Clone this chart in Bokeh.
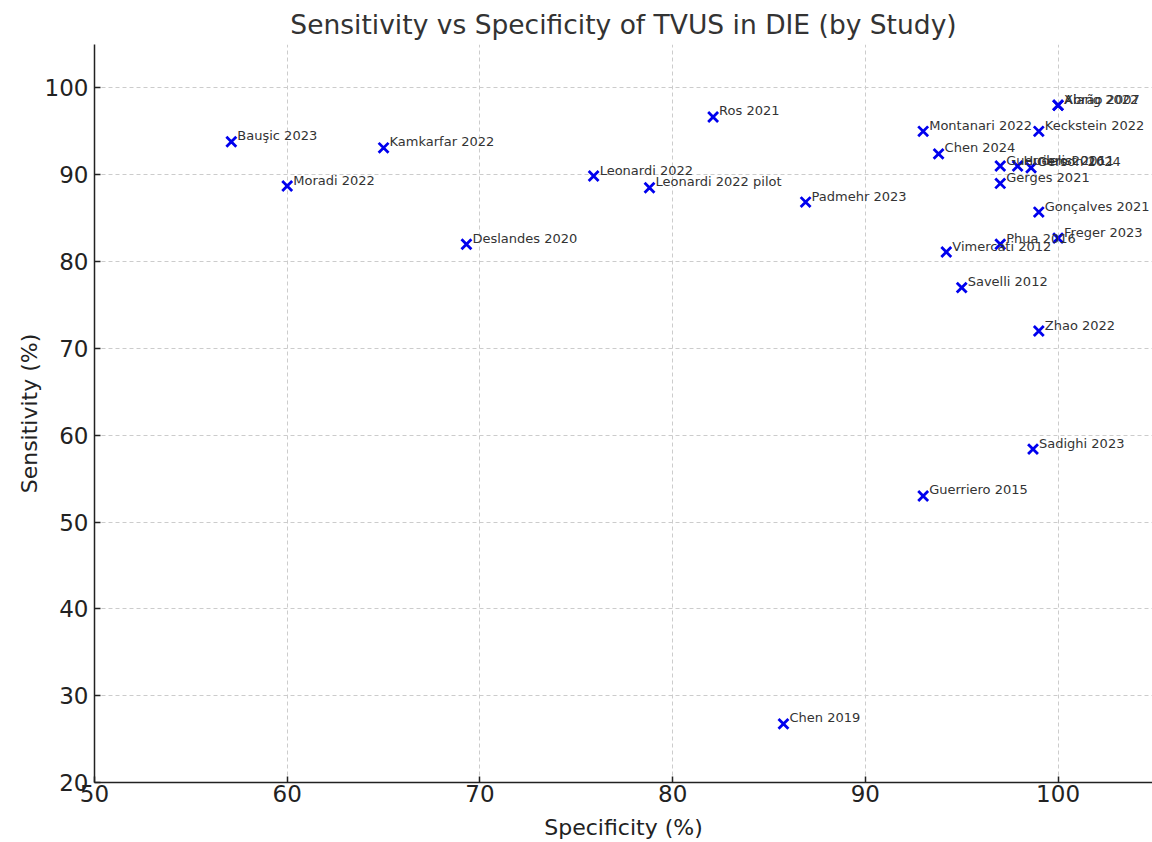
from bokeh.plotting import figure
from bokeh.models import ColumnDataSource, Range1d, FixedTicker
from bokeh.core.properties import value
from bokeh.embed import file_html
from bokeh.resources import INLINE

studies = ["Bauşic 2023", "Moradi 2022", "Kamkarfar 2022", "Deslandes 2020",
           "Leonardi 2022", "Leonardi 2022 pilot", "Ros 2021", "Padmehr 2023",
           "Chen 2019", "Montanari 2022", "Chen 2024", "Guerriero 2016",
           "Hudelist 2011", "Gerson 2024", "Gerges 2021", "Keckstein 2022",
           "Abrão 2007", "Xiang 2022", "Gonçalves 2021", "Freger 2023",
           "Phua 2016", "Vimercati 2012", "Savelli 2012", "Zhao 2022",
           "Sadighi 2023", "Guerriero 2015"]
specificity = [57.1, 60.0, 65.0, 69.3,
               75.9, 78.8, 82.1, 86.9,
               85.75, 93.0, 93.8, 97.0,
               97.9, 98.6, 97.0, 99.0,
               100.0, 100.0, 99.0, 100.0,
               97.0, 94.2, 95.0, 99.0,
               98.7, 93.0]
sensitivity = [93.8, 88.7, 93.1, 82.0,
               89.85, 88.5, 96.65, 86.85,
               26.75, 95.0, 92.4, 91.0,
               91.0, 90.8, 89.0, 95.0,
               98.0, 98.0, 85.7, 82.7,
               82.0, 81.1, 77.0, 72.0,
               58.4, 53.0]

x_ticks = [50, 60, 70, 80, 90, 100]
y_ticks = [20, 30, 40, 50, 60, 70, 80, 90, 100]

src = ColumnDataSource(dict(x=specificity, y=sensitivity, name=studies))

FONT = "DejaVu Sans"

p = figure(width=1152, height=842, output_backend="svg", toolbar_location=None,
           x_range=Range1d(50, 104.9), y_range=Range1d(20, 105),
           min_border_left=94, min_border_right=0, min_border_top=44,
           min_border_bottom=60,
           title="Sensitivity vs Specificity of TVUS in DIE (by Study)")

p.title.text_font = FONT
p.title.text_font_size = "26.5px"
p.title.text_font_style = "normal"
p.title.text_color = "#333333"
p.title.align = "center"

p.outline_line_color = None
p.background_fill_color = "white"

for ax in (p.xaxis[0], p.yaxis[0]):
    ax.axis_line_color = "#222222"
    ax.axis_line_width = 1.5
    ax.major_tick_in = 6
    ax.major_tick_out = 0
    ax.major_tick_line_color = "#222222"
    ax.major_tick_line_width = 1.5
    ax.minor_tick_line_color = None
    ax.major_label_text_font = FONT
    ax.major_label_text_font_size = "23px"
    ax.major_label_text_color = "#222222"
    ax.axis_label_text_font = FONT
    ax.axis_label_text_font_size = "22px"
    ax.axis_label_text_font_style = "normal"
    ax.axis_label_text_color = "#222222"

p.xaxis.ticker = FixedTicker(ticks=x_ticks)
p.yaxis.ticker = FixedTicker(ticks=y_ticks)
p.xaxis.axis_label = "Specificity (%)"
p.yaxis.axis_label = "Sensitivity (%)"
p.xaxis.major_label_standoff = 2
p.yaxis.major_label_standoff = 6
p.yaxis.axis_label_standoff = 0
p.xaxis.axis_label_standoff = 10

p.grid.grid_line_color = "#cccccc"
p.grid.grid_line_dash = "4 3"
p.grid.grid_line_width = 1

p.scatter("x", "y", source=src, marker="x", size=14, line_color="#0000ee",
          line_width=2.8)
p.text("x", "y", text="name", source=src, x_offset=6, y_offset=-6,
       text_font=value(FONT), text_font_size="13px", text_color="#333333",
       text_baseline="alphabetic", text_align="left")

open("out.html", "w").write(file_html(p, INLINE))
